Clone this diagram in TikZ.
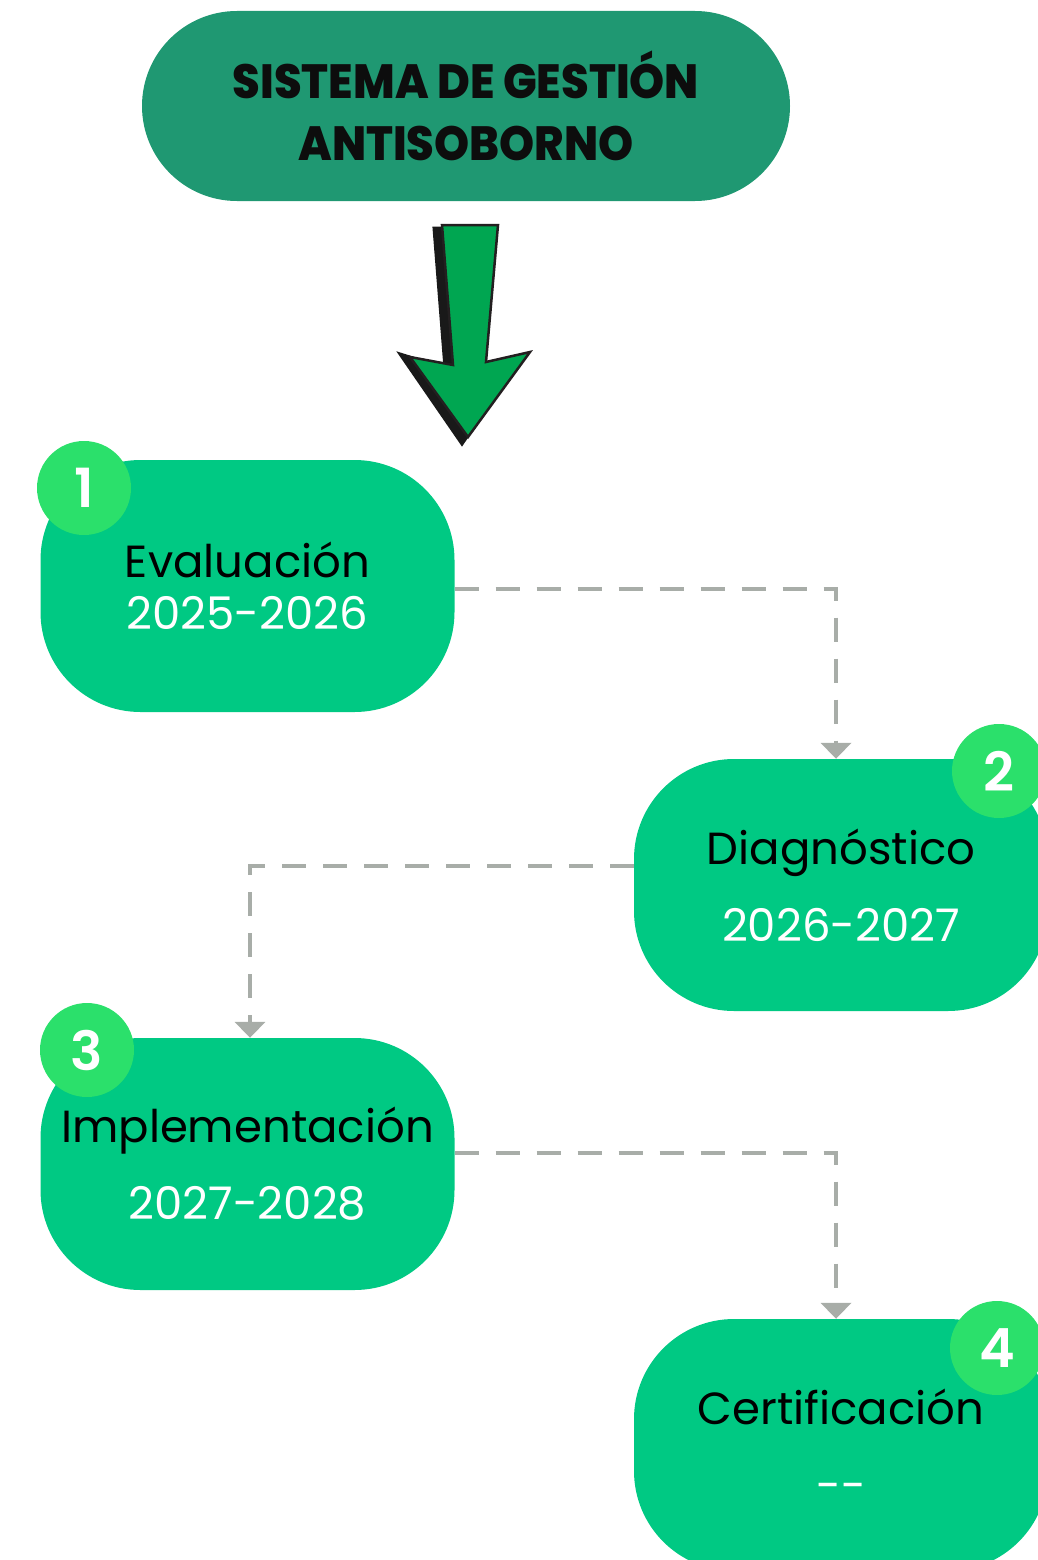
\documentclass[tikz,border=0pt]{standalone}
\usepackage{fontspec}
\setmainfont{Poppins}
\newfontfamily\titlefont{Poppins ExtraBold}
\newfontfamily\badgefont{Poppins SemiBold}
\usetikzlibrary{arrows.meta}
\definecolor{titlegreen}{RGB}{31,152,114}
\definecolor{boxgreen}{RGB}{0,201,131}
\definecolor{badgegreen}{RGB}{43,224,107}
\definecolor{arrowgreen}{RGB}{0,166,81}
\definecolor{edgegray}{RGB}{168,173,168}
\definecolor{outline}{RGB}{35,31,32}
\newcommand{\narrow}[1]{\scalebox{0.93}[1]{#1}}
\tikzset{
  titlebox/.style={fill=titlegreen, rounded corners=95pt, minimum width=648pt, minimum height=190pt, inner sep=0pt, align=center,
    font=\titlefont\fontsize{48}{62}\selectfont, text=black!95},
  stagebox/.style={fill=boxgreen, rounded corners=100pt, minimum width=414pt, minimum height=252pt, inner sep=0pt, align=center,
    font=\fontsize{45}{77}\selectfont, text=black},
  badge/.style={circle, fill=badgegreen, minimum size=94pt, inner sep=0pt, text=white, font=\badgefont\fontsize{54}{54}\selectfont},
  flow/.style={draw=edgegray, line width=4.5pt, dash pattern=on 24pt off 17pt, -{Triangle[width=30pt,length=16pt]}},
}
\begin{document}
\begin{tikzpicture}[x=1pt,y=-1pt]
\useasboundingbox (0,0) rectangle (1038,1560);
\clip (0,0) rectangle (1038,1560);
% title
\node[titlebox] (title) at (466,106) {\narrow{SISTEMA DE GESTIÓN}\\\narrow{ANTISOBORNO}};
% big arrow: shadow then green
\fill[black!90, draw=black!90, line width=3pt, line join=miter]
  (434,228) -- (490,228) -- (478,365) -- (522,355) -- (462,444) -- (400,354) -- (445,368) -- cycle;
\filldraw[fill=arrowgreen, draw=outline, line width=2.5pt, line join=miter]
  (442,225) -- (498,225) -- (486,362) -- (530,352) -- (468,437) -- (410,357) -- (453,365) -- cycle;
% stages
\node[stagebox, font=\fontsize{45}{52}\selectfont] (s1) at (247.5,586) {Evaluación\\\textcolor{white}{2025-2026}};
\node[stagebox] (s2) at (841,885) {Diagnóstico\\\textcolor{white}{2026-2027}};
\node[stagebox] (s3) at (247.5,1164) {Implementación\\\textcolor{white}{2027-2028}};
\node[stagebox] (s4) at (841,1445) {Certificación\\\textcolor{white}{-{}-}};
% badges
\node[badge] (b1) at (84,488) {1};
\node[badge] (b2) at (999,771) {2};
\node[badge] (b3) at (87,1050) {3};
\node[badge] (b4) at (997,1348) {4};
% connectors
\draw[flow] (s1.east |- 0,589) -| ([xshift=-5pt]s2.north);
\draw[flow] (s2.west |- 0,866) -| ([xshift=2.5pt]s3.north);
\draw[flow] (s3.east |- 0,1153) -| ([xshift=-5pt]s4.north);
\end{tikzpicture}
\end{document}
